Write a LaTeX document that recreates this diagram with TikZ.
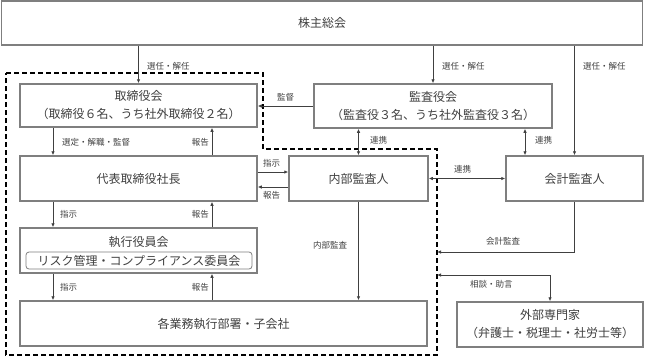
\documentclass[tikz,border=0pt]{standalone}
\usepackage{fontspec}
\setmainfont{Noto Sans CJK JP}
\usetikzlibrary{arrows.meta}
\definecolor{boxline}{HTML}{7F7F7F}
\definecolor{txt}{HTML}{404040}
\definecolor{arrline}{HTML}{404040}
\tikzset{
  box/.style={draw=boxline, line width=1.5pt, fill=white, text=txt, font=\fontsize{12}{18}\selectfont, align=center, inner sep=0pt},
  arr/.style={draw=arrline, line width=0.8pt, -{Latex[length=4pt,width=3.5pt]}},
  darr/.style={draw=arrline, line width=0.8pt, {Latex[length=4pt,width=3.5pt]}-{Latex[length=4pt,width=3.5pt]}},
  lbl/.style={text=txt, font=\fontsize{8.5}{10}\selectfont, inner sep=0pt, anchor=west},
  lblr/.style={lbl, anchor=east},
  bound/.style={draw=black, line width=1.4pt, dash pattern=on 5pt off 3pt},
}
\begin{document}
\begin{tikzpicture}[x=1pt,y=-1pt]
\useasboundingbox (0,0) rectangle (645,357);
% boxes
\node[box, minimum width=641pt, minimum height=44pt] (kabu) at (322,23) {株主総会};
\node[box, minimum width=237pt, minimum height=43pt] (tori) at (138.5,105.5) {取締役会\\（取締役６名、うち社外取締役２名）};
\node[box, minimum width=238pt, minimum height=44pt] (kansa) at (433,106) {監査役会\\（監査役３名、うち社外監査役３名）};
\node[box, minimum width=237pt, minimum height=45pt] (dai) at (138.5,178.5) {代表取締役社長};
\node[box, minimum width=139pt, minimum height=45pt] (naibu) at (358.5,178.5) {内部監査人};
\node[box, minimum width=137pt, minimum height=45pt] (kaikei) at (574.5,178.5) {会計監査人};
\node[box, minimum width=237pt, minimum height=45pt] (shikkou) at (138.5,250.5) {};
\node[text=txt, font=\fontsize{12}{14}\selectfont, inner sep=0pt] (shikkoutxt) at (138.5,242) {執行役員会};
\node[draw=boxline, line width=0.8pt, rounded corners=3pt, minimum width=226pt, minimum height=17pt, inner sep=0pt, text=txt, font=\fontsize{12}{14}\selectfont] (risk) at (139,260.5) {リスク管理・コンプライアンス委員会};
\node[box, minimum width=407pt, minimum height=45pt] (kaku) at (223.5,323.5) {各業務執行部署・子会社};
\node[box, minimum width=186pt, minimum height=45pt] (gaibu) at (550,324.5) {外部専門家\\（弁護士・税理士・社労士等）};
% dashed boundary
\draw[bound] (6,73) -- (263,73) -- (263,149) -- (437,149) -- (437,355) -- (6,355) -- cycle;
% helper coordinates
\coordinate (xL) at (53,0);
\coordinate (xR) at (212,0);
\coordinate (yA) at (0,172);
\coordinate (yB) at (0,187);
\coordinate (xK) at (525,0);
\coordinate (kaikeiend) at (437,252);
\coordinate (soudanend) at (437,275);
% selection arrows
\draw[arr] (kabu.south -| tori.north) -- (tori.north);
\draw[arr] (kabu.south -| kansa.north) -- (kansa.north);
\draw[arr] (kabu.south -| kaikei.north) -- (kaikei.north);
\node[lbl] (l1) at (147,66) {選任・解任};
\node[lbl] (l2) at (442,66) {選任・解任};
\node[lbl] (l3) at (583,66) {選任・解任};
% kansa -> tori
\draw[arr] (kansa.west) -- (tori.east |- kansa.west);
\node[lbl] (l4) at (277,97) {監督};
% tori <-> dai
\draw[arr] (tori.south -| xL) -- (dai.north -| xL);
\draw[arr] (dai.north -| xR) -- (tori.south -| xR);
\node[lbl] (l5) at (62,142) {選定・解職・監督};
\node[lblr] (l6) at (209,142) {報告};
% dai <-> shikkou
\draw[arr] (dai.south -| xL) -- (shikkou.north -| xL);
\draw[arr] (shikkou.north -| xR) -- (dai.south -| xR);
\node[lbl] (l7) at (60,214) {指示};
\node[lblr] (l8) at (209,214) {報告};
% shikkou <-> kaku
\draw[arr] (shikkou.south -| xL) -- (kaku.north -| xL);
\draw[arr] (kaku.north -| xR) -- (shikkou.south -| xR);
\node[lbl] (l9) at (60,287) {指示};
\node[lblr] (l10) at (209,287) {報告};
% dai <-> naibu
\draw[arr] (dai.east |- yA) -- (naibu.west |- yA);
\draw[arr] (naibu.west |- yB) -- (dai.east |- yB);
\node[lbl] (l11) at (263,163) {指示};
\node[lbl] (l12) at (263,195) {報告};
% renkei
\draw[darr] (kansa.south -| naibu.north) -- (naibu.north);
\draw[darr] (kansa.south -| xK) -- (kaikei.north -| xK);
\draw[darr] (naibu.east) -- (kaikei.west);
\node[lbl] (l13) at (370,140) {連携};
\node[lbl] (l14) at (535,140) {連携};
\node[lbl] (l15) at (454,169) {連携};
% internal audit
\draw[arr] (naibu.south) -- (kaku.north -| naibu.south);
\node[lbl] (l16) at (313,245) {内部監査};
% accounting audit
\draw[arr] (kaikei.south) |- (kaikeiend);
\node[lbl] (l17) at (486,241) {会計監査};
% consultation
\draw[darr] (soudanend) -| (gaibu.north);
\node[lbl] (l18) at (470,284) {相談・助言};
\end{tikzpicture}
\end{document}
